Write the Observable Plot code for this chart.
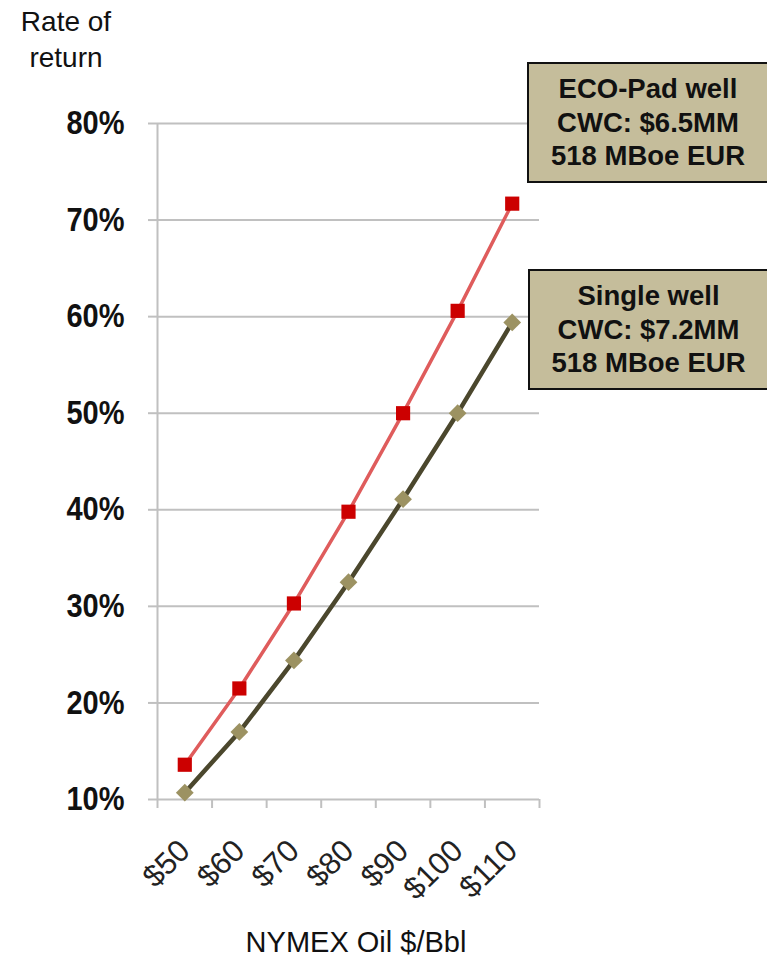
<!DOCTYPE html>
<html><head><meta charset="utf-8">
<script src="https://cdn.jsdelivr.net/npm/d3@7"></script>
<script src="https://cdn.jsdelivr.net/npm/@observablehq/plot@0.6"></script>
<style>
body{margin:0;background:#fff;}
#wrap{position:relative;width:767px;height:970px;font-family:"Liberation Sans",Arial,sans-serif;color:#111;overflow:hidden;}
#chart{position:absolute;left:0;top:0;}
#ytitle{position:absolute;left:0;width:132px;top:4px;text-align:center;font-size:28px;line-height:36px;}
#xtitle{position:absolute;left:156px;width:400px;top:924px;text-align:center;font-size:29px;line-height:36px;}
.box{position:absolute;box-sizing:border-box;border:2px solid #111;background:#c5bd9b;font-weight:bold;font-size:27.5px;line-height:33.5px;text-align:center;display:flex;flex-direction:column;justify-content:center;}
</style></head>
<body><div id="wrap">
<div id="chart"></div>
<div id="ytitle"></div>
<div id="xtitle"></div>
<div class="box" id="box1" style="left:527px;top:62px;width:242px;height:121px;"></div>
<div class="box" id="box2" style="left:528px;top:269px;width:241px;height:121px;"></div>
</div>
<script>
const prices = ["$50", "$60", "$70", "$80", "$90", "$100", "$110"];
const ecoPad = [13.6, 21.5, 30.3, 39.8, 50.0, 60.6, 71.7];
const singleWell = [10.7, 17.0, 24.4, 32.5, 41.1, 50.0, 59.4];
const yTicks = [10, 20, 30, 40, 50, 60, 70, 80];
const yTitle = ["Rate of", "return"];
const xTitle = "NYMEX Oil $/Bbl";
const ecoPadLabel = ["ECO-Pad well", "CWC: $6.5MM", "518 MBoe EUR"];
const singleWellLabel = ["Single well", "CWC: $7.2MM", "518 MBoe EUR"];

const rows = prices.map((p, i) => ({i: i + 0.5, p, eco: ecoPad[i], single: singleWell[i]}));

const chart = Plot.plot({
  width: 767, height: 970,
  marginLeft: 157, marginRight: 228, marginTop: 123, marginBottom: 171,
  style: {fontFamily: "'Liberation Sans', Arial, sans-serif", background: "transparent", overflow: "visible", color: "#111"},
  x: {type: "linear", domain: [0, prices.length], axis: null},
  y: {domain: [10, 80], axis: null},
  marks: [
    Plot.ruleY(yTicks, {stroke: "#c0c0c0", strokeWidth: 2}),
    Plot.ruleX([0], {stroke: "#c0c0c0", strokeWidth: 2}),
    Plot.axisY({ticks: yTicks, tickFormat: d => d + "%", tickSize: 9, tickPadding: 24, stroke: "#c0c0c0", strokeWidth: 2, fill: "#111", fontSize: 29, fontWeight: "bold", label: null}),
    Plot.axisX({ticks: d3.range(prices.length + 1), tickFormat: () => "", tickSize: 9, stroke: "#c0c0c0", strokeWidth: 2, label: null}),
    Plot.axisX({ticks: rows.map(d => d.i), tickFormat: v => prices[Math.floor(v)], tickSize: 0, tickPadding: 46, tickRotate: -45, fontSize: 31, fill: "#222", label: null}),
    Plot.line(rows, {x: "i", y: "eco", stroke: "#df5c5c", strokeWidth: 3.5}),
    Plot.line(rows, {x: "i", y: "single", stroke: "#4b472d", strokeWidth: 4.5}),
    Plot.dot(rows, {x: "i", y: "single", symbol: "diamond2", r: 8, fill: "#9c9262", stroke: "none"}),
    Plot.dot(rows, {x: "i", y: "eco", symbol: "square", r: 8, fill: "#cc0000", stroke: "none"})
  ]
});
document.getElementById("chart").appendChild(chart);
// slightly taller glyphs for the bold y tick labels, as in the reference
d3.select(chart).selectAll("g[aria-label='y-axis tick label'] text").each(function() {
  const t = this.getAttribute("transform") || "";
  this.setAttribute("transform", t + " scale(1,1.15)");
});
document.getElementById("ytitle").innerHTML = yTitle.join("<br>");
document.getElementById("xtitle").textContent = xTitle;
document.getElementById("box1").innerHTML = ecoPadLabel.map(s => `<div>${s}</div>`).join("");
document.getElementById("box2").innerHTML = singleWellLabel.map(s => `<div>${s}</div>`).join("");
</script>
</body></html>
